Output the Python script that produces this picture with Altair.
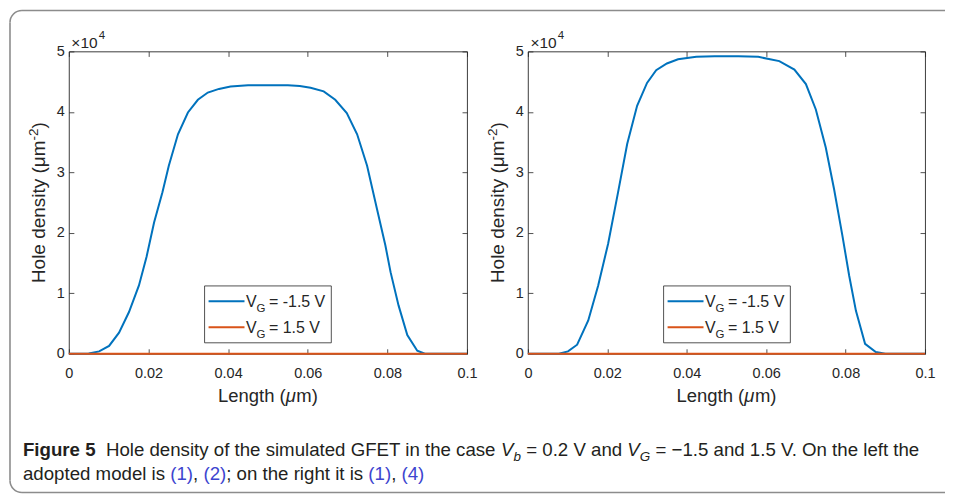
import math
import altair as alt
import pandas as pd

# ---------------- data (hole density in units of 1e4 um^-2)
x_ticks = [0, 0.02, 0.04, 0.06, 0.08, 0.1]
y_ticks = [0, 1, 2, 3, 4, 5]

left_x = [0, 0.0025, 0.005, 0.0076, 0.0101, 0.0126, 0.0151, 0.0176, 0.0195, 0.0214,
          0.0235, 0.0251, 0.0274, 0.0299, 0.0324, 0.0349, 0.0377, 0.0406, 0.045, 0.05,
          0.055, 0.058, 0.0607, 0.064, 0.0669, 0.0698, 0.0724, 0.0749, 0.0774, 0.0795,
          0.0808, 0.0828, 0.085, 0.0875, 0.0894, 0.095, 0.1]
left_neg = [0, 0, 0.005, 0.04, 0.13, 0.35, 0.69, 1.13, 1.6, 2.17,
            2.67, 3.11, 3.63, 3.99, 4.20, 4.32, 4.38, 4.42, 4.44, 4.44,
            4.44, 4.43, 4.40, 4.34, 4.20, 3.98, 3.63, 3.11, 2.39, 1.79,
            1.35, 0.80, 0.31, 0.05, 0, 0, 0]

right_x = [0, 0.005, 0.0078, 0.0101, 0.0124, 0.0152, 0.0177, 0.0202, 0.0227, 0.025,
           0.0275, 0.03, 0.0323, 0.035, 0.0378, 0.0424, 0.047, 0.053, 0.058, 0.0633,
           0.0671, 0.07, 0.0725, 0.075, 0.0771, 0.0792, 0.0809, 0.0826, 0.0849, 0.0876,
           0.09, 0.1]
right_neg = [0, 0, 0, 0.04, 0.15, 0.55, 1.13, 1.82, 2.67, 3.47,
             4.10, 4.48, 4.69, 4.80, 4.87, 4.91, 4.92, 4.92, 4.91, 4.84,
             4.70, 4.46, 4.04, 3.41, 2.72, 1.95, 1.29, 0.71, 0.165, 0.03,
             0, 0]

pos_x = [0, 0.1]     # V_G = 1.5 V : zero everywhere
pos_y = [0, 0]

series_labels = ["= -1.5 V", "= 1.5 V"]

# ---------------- style
FONT = "Liberation Sans, Arial, Helvetica, sans-serif"
AX = "#262626"
BLUE = "#0072BD"
ORANGE = "#D95319"
CAPC = "#231f20"
LINKC = "#3d45cf"
FRAME = "#8c8c8c"
W1, W2, H = 399, 398, 303

one = pd.DataFrame({"k": [0]})

# Arial advance widths (per 1000 em) used to lay out multi-style text pieces
AW = {" ": 278, "(": 333, ")": 333, ",": 278, ".": 278, ";": 278, "=": 584, "−": 584,
      "-": 333, "μ": 576,
      "a": 556, "b": 556, "c": 500, "d": 556, "e": 556, "f": 278, "g": 556, "h": 556,
      "i": 222, "l": 222, "m": 833, "n": 556, "o": 556, "p": 556, "r": 333, "s": 500,
      "t": 278, "u": 556, "y": 500, "E": 667, "F": 611, "G": 778, "H": 722, "O": 778,
      "T": 611, "V": 667, "L": 556}
AWB = {"F": 611, "i": 278, "g": 611, "u": 611, "r": 389, "e": 556, " ": 278}


def tw(s, size, bold=False):
    tab = AWB if bold else AW
    return sum(tab.get(c, 556) for c in s) * size / 1000


def txt(s, x, y, size, color=AX, weight="normal", style="normal",
        align="left", baseline="alphabetic", angle=0):
    mk = dict(text=s, fontSize=size, color=color, fontWeight=weight,
              fontStyle=style, align=align, baseline=baseline, font=FONT)
    if angle:
        mk["angle"] = angle
    return alt.Chart(one).mark_text(**mk).encode(x=alt.value(x), y=alt.value(y))


def y_title():
    main, sup, close = "Hole density (μm", "-2", ")"
    s1, s2 = 19, 13.5
    total = tw(main, s1) + tw(sup, s2) + tw(close, s1)
    y0 = H / 2 + total / 2
    bx = -23.5
    out = [txt(main, bx, y0, s1, angle=270)]
    y1 = y0 - tw(main, s1)
    out.append(txt(sup, bx - 7, y1, s2, angle=270))
    y2 = y1 - tw(sup, s2)
    out.append(txt(close, bx, y2, s1, angle=270))
    return out


def panel(xs, ys, w):
    neg = pd.DataFrame({"x": xs, "y": ys})
    pos = pd.DataFrame({"x": pos_x, "y": pos_y})
    xsc = alt.Scale(domain=[0, 0.1], nice=False, zero=False)
    ysc = alt.Scale(domain=[0, 5], nice=False)
    common = dict(offset=-5, tickSize=5, tickWidth=0.8, tickColor=AX,
                  domain=False, grid=False, title=None)
    ax_b = alt.Axis(orient="bottom", values=x_ticks, format="~g",
                    labelFont=FONT, labelFontSize=14.5, labelColor=AX,
                    labelPadding=13, labelFlush=False, labelOverlap=False, **common)
    ax_l = alt.Axis(orient="left", values=y_ticks, format="d",
                    labelFont=FONT, labelFontSize=14.5, labelColor=AX,
                    labelPadding=4.5, labelFlush=False, labelOverlap=False, **common)
    ax_t = alt.Axis(orient="top", values=x_ticks, labels=False, **common)
    ax_r = alt.Axis(orient="right", values=y_ticks, labels=False, **common)

    l_neg = alt.Chart(neg).mark_line(color=BLUE, strokeWidth=2).encode(
        x=alt.X("x:Q", scale=xsc, axis=ax_b),
        y=alt.Y("y:Q", scale=ysc, axis=ax_l))
    l_pos = alt.Chart(pos).mark_line(color=ORANGE, strokeWidth=2).encode(
        x=alt.X("x:Q", scale=xsc, axis=ax_t),
        y=alt.Y("y:Q", scale=ysc, axis=ax_r))

    layers = [l_neg, l_pos]
    # x10^4 exponent label
    layers.append(txt("×10", 2.5, -3.5, 15.5))
    layers.append(txt("4", 30, -12.5, 11.5))
    # axis titles
    xs1 = 18.5
    xt_w = tw("Length (", xs1) + tw("μ", xs1) + tw("m)", xs1)
    xt0 = w / 2 - xt_w / 2
    layers.append(txt("Length (", xt0, 351, xs1))
    layers.append(txt("μ", xt0 + tw("Length (", xs1), 351, xs1, style="italic"))
    layers.append(txt("m)", xt0 + tw("Length (μ", xs1), 351, xs1))
    layers += y_title()
    # legend
    lx0, lx1, ly0, ly1 = 136, 263, 235, 292
    layers.append(alt.Chart(one).mark_rect(fill="white", stroke=AX, strokeWidth=0.8).encode(
        x=alt.value(lx0), x2=alt.value(lx1), y=alt.value(ly0), y2=alt.value(ly1)))
    for i, (col, lab) in enumerate(zip([BLUE, ORANGE], series_labels)):
        yy = 250.3 + 26 * i
        layers.append(alt.Chart(one).mark_rule(color=col, strokeWidth=2).encode(
            x=alt.value(140), x2=alt.value(176), y=alt.value(yy)))
        layers.append(txt("V", 177.5, yy + 5.7, 16))
        layers.append(txt("G", 188, yy + 10.5, 11.5))
        layers.append(txt(lab, 200.5, yy + 5.7, 16))
    return layers


CAP = 18.7


def caption_line(segs, x0, y):
    out = []
    x = x0
    for s, kind in segs:
        sub = kind == "sub"
        size = CAP * 0.72 if sub else CAP
        bold = kind == "bold"
        lead = len(s) - len(s.lstrip(" "))
        t = s.strip(" ")
        xx = x + tw(" " * lead, size)
        out.append(txt(t, xx, y + (4.5 if sub else 0), size,
                       color=LINKC if kind == "link" else CAPC,
                       weight="bold" if bold else "normal",
                       style="italic" if kind in ("ital", "sub") else "normal"))
        x += tw(s, size, bold)
    return out


line1 = [("Figure 5", "bold"), ("  Hole density of the simulated GFET in the case ", "reg"),
         ("V", "ital"), ("b", "sub"), (" = 0.2 V and ", "reg"), ("V", "ital"), ("G", "sub"),
         (" = −1.5 and 1.5 V. On the left the", "reg")]
line2 = [("adopted model is ", "reg"), ("(1)", "link"), (", ", "reg"), ("(2)", "link"),
         ("; on the right it is ", "reg"), ("(1)", "link"), (", ", "reg"), ("(4)", "link")]

# outer rounded frame of the figure (relative to left plot area)
FL, FT, FB, FR, R = -59, -41, 442, 878, 12
frame = [
    alt.Chart(one).mark_rule(color=FRAME, strokeWidth=1.6).encode(
        x=alt.value(FL), y=alt.value(FT + R), y2=alt.value(FB - R)),
    alt.Chart(one).mark_rule(color=FRAME, strokeWidth=1.6).encode(
        x=alt.value(FL + R), x2=alt.value(FR), y=alt.value(FT)),
    alt.Chart(one).mark_rule(color=FRAME, strokeWidth=1.6).encode(
        x=alt.value(FL + R), x2=alt.value(FR), y=alt.value(FB)),
    alt.Chart(one).mark_arc(color=FRAME, radius=R + 0.8, radius2=R - 0.8,
                            theta=1.5 * math.pi, theta2=2 * math.pi).encode(
        x=alt.value(FL + R), y=alt.value(FT + R)),
    alt.Chart(one).mark_arc(color=FRAME, radius=R + 0.8, radius2=R - 0.8,
                            theta=math.pi, theta2=1.5 * math.pi).encode(
        x=alt.value(FL + R), y=alt.value(FB - R)),
]

left_layers = panel(left_x, left_neg, W1) + frame + \
    caption_line(line1, -46, 405.5) + caption_line(line2, -46, 429.5)
right_layers = panel(right_x, right_neg, W2)

left = alt.layer(*left_layers).resolve_axis(x="independent", y="independent").properties(
    width=W1, height=H)
right = alt.layer(*right_layers).resolve_axis(x="independent", y="independent").properties(
    width=W2, height=H)

chart = alt.hconcat(left, right, spacing=61, bounds="flush").properties(
    padding=0, background="white"
).configure_view(stroke=AX, strokeWidth=0.9)

chart.save("out.html", embed_options={"renderer": "svg", "actions": False})
